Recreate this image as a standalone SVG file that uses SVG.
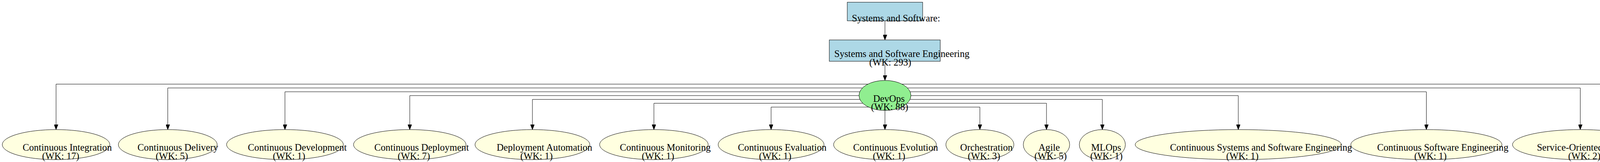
<svg xmlns="http://www.w3.org/2000/svg" width="4418" height="415" viewBox="0 0 4418 415">
<defs>
<marker id="arr" viewBox="0 0 13 10" refX="13" refY="5" markerWidth="13" markerHeight="10" markerUnits="userSpaceOnUse" orient="auto">
<path d="M0,0 L13,5 L0,10 Z" fill="#000" stroke="#000" stroke-width="1"/>
</marker>
<style>
.edge{fill:none;stroke:#000;stroke-width:1;marker-end:url(#arr)}
.box{fill:#add8e6;stroke:#000;stroke-width:1}
.main{fill:#90ee90;stroke:#000;stroke-width:1}
.leaf{fill:#ffffe0;stroke:#000;stroke-width:1}
text{font-family:"Liberation Serif","Times New Roman",serif;font-size:24.7px;fill:#000;text-anchor:middle}
</style>
</defs>
<rect x="0" y="0" width="4418" height="415" fill="#fff"/>
<g id="connectors">
<path class="edge" d="M2265.5,53.3 V102.3"/>
<path class="edge" d="M2265.5,157 V206"/>
<path class="edge" d="M2265.5,215.5 H143.5 V332"/>
<path class="edge" d="M2265.5,225.3 H429.5 V332"/>
<path class="edge" d="M2265.5,235.1 H729.5 V332"/>
<path class="edge" d="M2265.5,244.9 H1049 V332"/>
<path class="edge" d="M2265.5,254.7 H1363 V332"/>
<path class="edge" d="M2265.5,264.5 H1674 V332"/>
<path class="edge" d="M2265.5,274.3 H1974 V332"/>
<path class="edge" d="M2265.5,283 V332"/>
<path class="edge" d="M2265.5,274.3 H2508.5 V332"/>
<path class="edge" d="M2265.5,264.5 H2679 V332"/>
<path class="edge" d="M2265.5,254.7 H2822 V332"/>
<path class="edge" d="M2265.5,244.9 H3170 V332"/>
<path class="edge" d="M2265.5,235.1 H3651.5 V332"/>
<path class="edge" d="M2265.5,225.3 H4045.5 V332"/>
<path class="edge" d="M2265.5,215.5 H4328 V332"/>
</g>
<g id="node-root">
<rect class="box" x="2169" y="5.7" width="193" height="47.6"/>
<text x="2293.8" y="55">Systems and Software:</text>
</g>
<g id="node-sse">
<rect class="box" x="2123" y="102.3" width="284" height="54.7"/>
<text x="2308.8" y="145.5">Systems and Software Engineering</text>
<text x="2279" y="167.5">(WK: 293)</text>
</g>
<g id="node-devops">
<ellipse class="main" cx="2265.5" cy="244.5" rx="66.5" ry="38.5"/>
<text x="2275.6" y="261">DevOps</text>
<text x="2277.4" y="281.5">(WK: 88)</text>
</g>
<g id="node-ci">
<ellipse class="leaf" cx="143.5" cy="370.5" rx="137.7" ry="38.5"/>
<text x="172.1" y="386">Continuous Integration</text>
<text x="155.4" y="407.5">(WK: 17)</text>
</g>
<g id="node-cdel">
<ellipse class="leaf" cx="429.5" cy="370.5" rx="126.5" ry="38.5"/>
<text x="455.3" y="386">Continuous Delivery</text>
<text x="439.9" y="407.5">(WK: 5)</text>
</g>
<g id="node-cdev">
<ellipse class="leaf" cx="729.5" cy="370.5" rx="149.5" ry="38.5"/>
<text x="761.1" y="386">Continuous Development</text>
<text x="739.9" y="407.5">(WK: 1)</text>
</g>
<g id="node-cdep">
<ellipse class="leaf" cx="1049" cy="370.5" rx="144" ry="38.5"/>
<text x="1079.3" y="386">Continuous Deployment</text>
<text x="1059.4" y="407.5">(WK: 7)</text>
</g>
<g id="node-da">
<ellipse class="leaf" cx="1363" cy="370.5" rx="147" ry="38.5"/>
<text x="1393.8" y="386">Deployment Automation</text>
<text x="1373.4" y="407.5">(WK: 1)</text>
</g>
<g id="node-cmon">
<ellipse class="leaf" cx="1674" cy="370.5" rx="139" ry="38.5"/>
<text x="1703.1" y="386">Continuous Monitoring</text>
<text x="1684.4" y="407.5">(WK: 1)</text>
</g>
<g id="node-ceval">
<ellipse class="leaf" cx="1974" cy="370.5" rx="135.5" ry="38.5"/>
<text x="2002.4" y="386">Continuous Evaluation</text>
<text x="1984.4" y="407.5">(WK: 1)</text>
</g>
<g id="node-cevol">
<ellipse class="leaf" cx="2265.5" cy="370.5" rx="131.5" ry="38.5"/>
<text x="2292.7" y="386">Continuous Evolution</text>
<text x="2275.9" y="407.5">(WK: 1)</text>
</g>
<g id="node-orch">
<ellipse class="leaf" cx="2508.5" cy="370.5" rx="87" ry="38.5"/>
<text x="2525.3" y="386">Orchestration</text>
<text x="2518.9" y="407.5">(WK: 3)</text>
</g>
<g id="node-agile">
<ellipse class="leaf" cx="2679" cy="370.5" rx="59.4" ry="38.5"/>
<text x="2685.9" y="386">Agile</text>
<text x="2689.4" y="407.5">(WK: 5)</text>
</g>
<g id="node-mlops">
<ellipse class="leaf" cx="2822" cy="370.5" rx="59" ry="38.5"/>
<text x="2831.6" y="386">MLOps</text>
<text x="2832.4" y="407.5">(WK: 1)</text>
</g>
<g id="node-csse">
<ellipse class="leaf" cx="3170" cy="370.5" rx="264" ry="38.5"/>
<text x="3228.3" y="386">Continuous Systems and Software Engineering</text>
<text x="3180.4" y="407.5">(WK: 1)</text>
</g>
<g id="node-cse">
<ellipse class="leaf" cx="3651.5" cy="370.5" rx="193.5" ry="38.5"/>
<text x="3693.5" y="386">Continuous Software Engineering</text>
<text x="3661.9" y="407.5">(WK: 1)</text>
</g>
<g id="node-soa">
<ellipse class="leaf" cx="4045.5" cy="370.5" rx="173.5" ry="38.5"/>
<text x="4082.8" y="386">Service-Oriented Architecture</text>
<text x="4055.9" y="407.5">(WK: 2)</text>
</g>
<g id="node-micro">
<ellipse class="leaf" cx="4328" cy="370.5" rx="85" ry="38.5"/>
<text x="4344.3" y="386">Microservice</text>
<text x="4338.4" y="407.5">(WK: 8)</text>
</g>
</svg>
